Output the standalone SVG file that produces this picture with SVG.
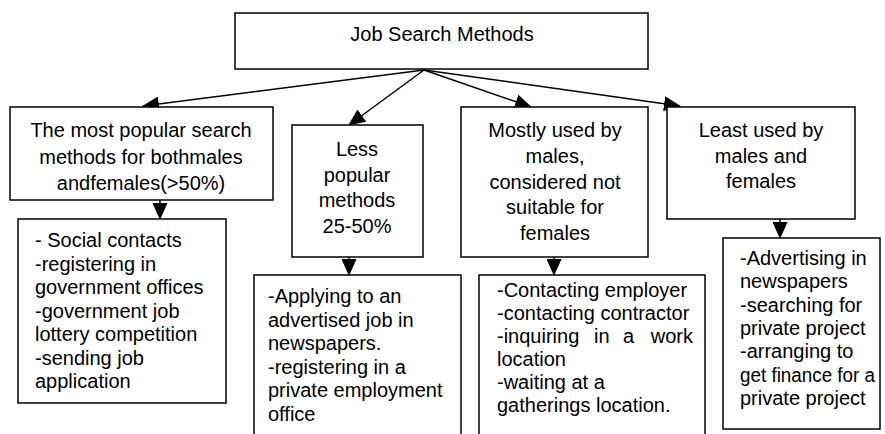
<svg xmlns="http://www.w3.org/2000/svg" width="885" height="434" viewBox="0 0 885 434">
<defs>
<marker id="ah" markerUnits="userSpaceOnUse" markerWidth="17" markerHeight="15" refX="16" refY="7.5" orient="auto">
<path d="M0,0 L17,7.5 L0,15 Z" fill="#000"/>
</marker>
<style>
rect{fill:#fff;stroke:#000;stroke-width:1.5}
text{font-family:"Liberation Sans",Arial,sans-serif;font-size:20px;fill:#000}
.c{text-anchor:middle}
.e line{stroke:#000;stroke-width:1.5;marker-end:url(#ah)}
</style>
</defs>
<g id="connectors" class="e">
<line x1="424" y1="70" x2="143" y2="106"/>
<line x1="424" y1="70" x2="349" y2="125"/>
<line x1="424" y1="70" x2="531" y2="107"/>
<line x1="424" y1="70" x2="680" y2="106"/>
<line x1="160" y1="200" x2="160" y2="219"/>
<line x1="349" y1="257" x2="349" y2="275"/>
<line x1="554" y1="257" x2="554" y2="275"/>
<line x1="780" y1="219" x2="780" y2="238"/>
</g>
<g id="root">
<rect x="235" y="13" width="413" height="56"/>
<text class="c" x="442" y="41" font-size="19">Job Search Methods</text>
</g>
<g id="popular">
<rect x="10" y="107" width="263" height="93"/>
<text class="c" x="141" y="137">The most popular search</text>
<text class="c" x="141" y="164">methods for bothmales</text>
<text class="c" x="141" y="190">andfemales(&gt;50%)</text>
</g>
<g id="less">
<rect x="292" y="125" width="131" height="132"/>
<text class="c" x="357" y="156">Less</text>
<text class="c" x="357" y="182">popular</text>
<text class="c" x="357" y="207">methods</text>
<text class="c" x="357" y="233">25-50%</text>
</g>
<g id="males">
<rect x="461" y="107" width="187" height="150"/>
<text class="c" x="555" y="137">Mostly used by</text>
<text class="c" x="555" y="163">males,</text>
<text class="c" x="555" y="189">considered not</text>
<text class="c" x="555" y="214">suitable for</text>
<text class="c" x="555" y="240">females</text>
</g>
<g id="least">
<rect x="667" y="107" width="188" height="112"/>
<text class="c" x="761" y="137">Least used by</text>
<text class="c" x="761" y="163">males and</text>
<text class="c" x="761" y="188">females</text>
</g>
<g id="popular-list">
<rect x="18" y="219" width="208" height="184"/>
<text x="35" y="247">- Social contacts</text>
<text x="35" y="270.5">-registering in</text>
<text x="35" y="294">government offices</text>
<text x="35" y="317.5">-government  job</text>
<text x="35" y="341">lottery competition</text>
<text x="35" y="364.5">-sending job</text>
<text x="35" y="388">application</text>
</g>
<g id="less-list">
<rect x="254" y="275" width="207" height="170"/>
<text x="268" y="303">-Applying to an</text>
<text x="268" y="326.5">advertised job in</text>
<text x="268" y="350">newspapers.</text>
<text x="268" y="373.5">-registering in a</text>
<text x="268" y="397">private employment</text>
<text x="268" y="420.5">office</text>
</g>
<g id="males-list">
<rect x="479" y="275" width="226" height="170"/>
<text x="497" y="297">-Contacting employer</text>
<text x="497" y="320">-contacting contractor</text>
<text y="343"><tspan x="497">-inquiring</tspan><tspan x="594">in</tspan><tspan x="623">a</tspan><tspan x="693" text-anchor="end">work</tspan></text>
<text x="497" y="366">location</text>
<text x="497" y="389">-waiting at a</text>
<text x="497" y="412">gatherings location.</text>
</g>
<g id="least-list">
<rect x="723" y="238" width="157" height="191"/>
<text x="740" y="265">-Advertising in</text>
<text x="740" y="288">newspapers</text>
<text x="740" y="311.5">-searching for</text>
<text x="740" y="335">private project</text>
<text x="740" y="358">-arranging to</text>
<text x="740" y="381.5" textLength="135" lengthAdjust="spacingAndGlyphs">get finance for a</text>
<text x="740" y="405">private project</text>
</g>
</svg>
